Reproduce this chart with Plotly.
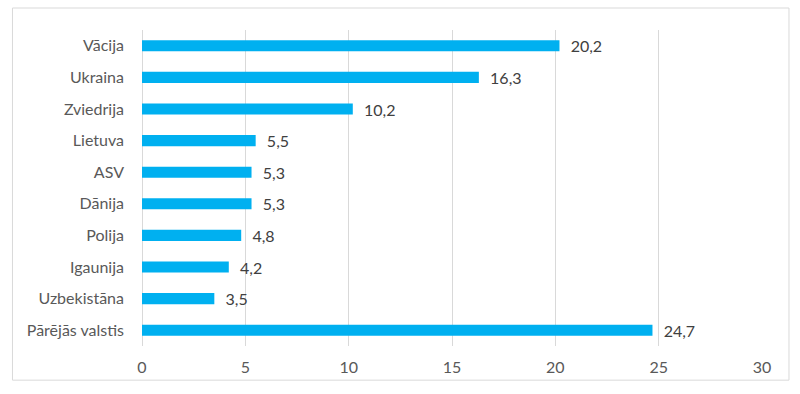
import plotly.graph_objects as go

categories = ["Vācija", "Ukraina", "Zviedrija", "Lietuva", "ASV", "Dānija",
              "Polija", "Igaunija", "Uzbekistāna", "Pārējās valstis"]
values = [20.2, 16.3, 10.2, 5.5, 5.3, 5.3, 4.8, 4.2, 3.5, 24.7]
x_ticks = [0, 5, 10, 15, 20, 25, 30]

labels = ["  " + f"{v:.1f}".replace(".", ",") for v in values]

FONT = "Lato, Carlito, sans-serif"

fig = go.Figure(go.Bar(
    y=categories, x=values, orientation="h",
    marker=dict(color="#00B0F0", line=dict(width=0)),
    width=0.35,
    text=labels, textposition="outside", cliponaxis=False, constraintext="none",
    textfont=dict(size=16, color="#404040", family=FONT),
    hoverinfo="skip",
))

fig.update_layout(
    width=800, height=394,
    margin=dict(l=142, r=38, t=29.5, b=48.2),
    paper_bgcolor="white", plot_bgcolor="white",
    showlegend=False,
    font=dict(family=FONT, size=16, color="#595959"),
    xaxis=dict(range=[0, 30], tickvals=x_ticks, showgrid=True, gridcolor="#D9D9D9",
               gridwidth=1, zeroline=True, zerolinecolor="#D9D9D9", zerolinewidth=1,
               showline=False, ticks="", ticklabelstandoff=10, fixedrange=True),
    yaxis=dict(categoryorder="array", categoryarray=categories[::-1],
               showgrid=False, showline=False, ticks="", ticklabelstandoff=17,
               zeroline=False, fixedrange=True),
    shapes=[dict(type="rect", xref="paper", yref="paper",
                 x0=-0.2089, x1=1.0435, y0=-0.1081, y1=1.0696,
                 line=dict(color="#D9D9D9", width=1), fillcolor="rgba(0,0,0,0)",
                 layer="below")],
)

fig.write_html("out.html", config={"displayModeBar": False},
               post_script="document.body.style.margin='0';")
